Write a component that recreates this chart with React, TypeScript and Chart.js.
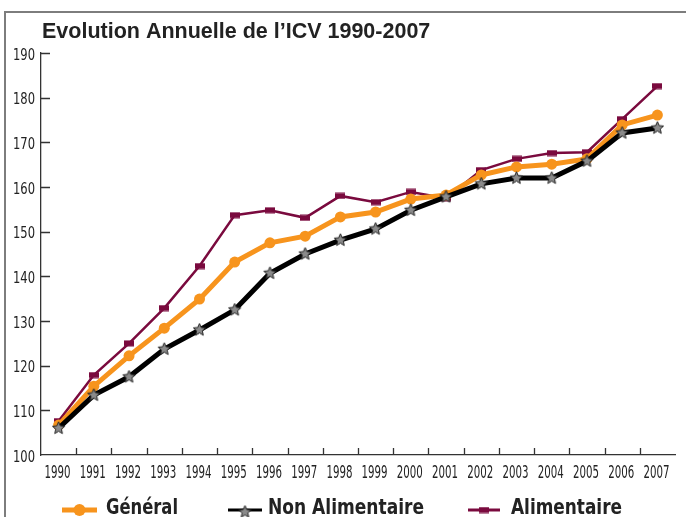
import React, { useEffect, useRef } from "react";
import { Chart, registerables } from "chart.js";
Chart.register(...registerables);

const years = ["1990","1991","1992","1993","1994","1995","1996","1997","1998","1999","2000","2001","2002","2003","2004","2005","2006","2007"];
const general = [106.7,115.4,122.2,128.4,134.9,143.2,147.5,149.0,153.3,154.4,157.3,158.2,162.7,164.5,165.1,166.3,173.9,176.1];
const nonAlimentaire = [106.0,113.4,117.5,123.7,128.0,132.5,140.7,145.0,148.1,150.6,154.8,157.8,160.7,162.0,162.0,165.8,172.1,173.2];
const alimentaire = [107.6,117.9,125.0,132.9,142.3,153.7,154.8,153.1,158.0,156.6,158.9,157.5,163.8,166.3,167.6,167.8,175.2,182.6];
const yMin = 100;
const yMax = 190;
const yStep = 10;
const titleText = "Evolution Annuelle de l\u2019ICV 1990-2007";
const seriesNames = ["Général", "Non Alimentaire", "Alimentaire"];

const ORANGE = "#f7941d";
const BLACK = "#000000";
const MAROON = "#7a0a3e";
const NARROW = "'Liberation Sans Narrow', 'Arial Narrow', 'DejaVu Sans Condensed', sans-serif";

function makeStar(): HTMLCanvasElement {
  const c = document.createElement("canvas");
  c.width = 15; c.height = 15;
  const ctx = c.getContext("2d")!;
  const cx = 7.5, cy = 7.5, ro = 6.5, ri = 3;
  ctx.beginPath();
  for (let i = 0; i < 10; i++) {
    const r = i % 2 === 0 ? ro : ri;
    const a = -Math.PI / 2 + (i * Math.PI) / 5;
    const x = cx + r * Math.cos(a), y = cy + r * Math.sin(a);
    if (i === 0) ctx.moveTo(x, y); else ctx.lineTo(x, y);
  }
  ctx.closePath();
  ctx.fillStyle = "#8a8a8a";
  ctx.fill();
  ctx.lineWidth = 1;
  ctx.strokeStyle = "#222";
  ctx.stroke();
  return c;
}

function makeRect(): HTMLCanvasElement {
  const c = document.createElement("canvas");
  c.width = 10; c.height = 7;
  const ctx = c.getContext("2d")!;
  ctx.fillStyle = MAROON;
  ctx.fillRect(0, 0.5, 10, 6);
  return c;
}

export default function App() {
  const ref = useRef<HTMLCanvasElement | null>(null);
  useEffect(() => {
    if (!ref.current) return;
    const star = makeStar();
    const rect = makeRect();

    const decor = {
      id: "decor",
      beforeDraw(chart: any) {
        const ctx = chart.ctx;
        ctx.save();
        ctx.fillStyle = "#fff";
        ctx.fillRect(0, 0, chart.width, chart.height);
        ctx.strokeStyle = "#7d7d7d";
        ctx.lineWidth = 2;
        ctx.beginPath();
        ctx.moveTo(686, 12);
        ctx.lineTo(5, 12);
        ctx.lineTo(5, 517);
        ctx.stroke();
        ctx.restore();
      },
      afterDraw(chart: any) {
        const ctx = chart.ctx;
        const ca = chart.chartArea;
        const ys = chart.scales.y;
        const xs = chart.scales.x;
        ctx.save();
        ctx.strokeStyle = "#333";
        ctx.lineWidth = 1.3;
        ctx.beginPath();
        ys.ticks.forEach((t: any, i: number) => {
          const y = Math.round(ys.getPixelForTick(i)) + 0.5;
          if (t.value === yMin) return;
          ctx.moveTo(ca.left, y);
          ctx.lineTo(ca.left + 9, y);
        });
        for (let i = 0; i < years.length - 1; i++) {
          const x = Math.round((xs.getPixelForValue(i) + xs.getPixelForValue(i + 1)) / 2) + 0.5;
          ctx.moveTo(x, ca.bottom);
          ctx.lineTo(x, ca.bottom - 7);
        }
        ctx.stroke();

        // tick labels (condensed via maxWidth)
        ctx.fillStyle = "#222";
        ctx.textBaseline = "alphabetic";
        ctx.font = "15px " + NARROW;
        ctx.textAlign = "right";
        ys.ticks.forEach((t: any, i: number) => {
          const y = ys.getPixelForTick(i);
          ctx.fillText(String(t.value), ca.left - 6, y + 6.5, 22);
        });
        ctx.font = "17px " + NARROW;
        ctx.textAlign = "center";
        years.forEach((lab, i) => {
          const x = xs.getPixelForValue(i) - 1;
          ctx.fillText(lab, x, 478, 26);
        });

        // title
        ctx.fillStyle = "#222";
        ctx.font = "bold 21.5px 'Liberation Sans', Arial, sans-serif";
        ctx.textAlign = "left";
        ctx.fillText(titleText, 42, 38);

        // legend
        const items = [
          { ds: 0, x0: 62, x1: 97, tx: 106, w: 72 },
          { ds: 1, x0: 228, x1: 262, tx: 268, w: 156 },
          { ds: 2, x0: 468, x1: 500, tx: 511, w: 111 },
        ];
        const ly = 510;
        items.forEach((it) => {
          const ds = chart.data.datasets[it.ds];
          ctx.strokeStyle = ds.borderColor;
          ctx.lineWidth = it.ds === 0 ? 5 : 3;
          ctx.beginPath();
          ctx.moveTo(it.x0, ly);
          ctx.lineTo(it.x1, ly);
          ctx.stroke();
          const cx = (it.x0 + it.x1) / 2;
          if (it.ds === 0) {
            ctx.fillStyle = ORANGE;
            ctx.beginPath();
            ctx.arc(cx, ly, 6, 0, Math.PI * 2);
            ctx.fill();
          } else if (it.ds === 1) {
            ctx.drawImage(star, cx - 7.5, ly - 5.5);
          } else {
            ctx.drawImage(rect, cx - 5, ly - 3.5);
          }
          ctx.fillStyle = "#222";
          ctx.font = "bold 22px " + NARROW;
          ctx.textAlign = "left";
          ctx.fillText(ds.label, it.tx, 514, it.w);
        });
        ctx.restore();
      },
    };

    const chart = new Chart(ref.current, {
      type: "line",
      data: {
        labels: years,
        datasets: [
          {
            label: seriesNames[0],
            data: general,
            borderColor: ORANGE,
            backgroundColor: ORANGE,
            borderWidth: 5,
            pointStyle: "circle",
            pointRadius: 5.5,
            pointBackgroundColor: ORANGE,
            pointBorderColor: ORANGE,
            pointBorderWidth: 0,
            tension: 0,
            order: 1,
          },
          {
            label: seriesNames[1],
            data: nonAlimentaire,
            borderColor: BLACK,
            backgroundColor: BLACK,
            borderWidth: 5,
            pointStyle: star as any,
            pointRadius: 6,
            tension: 0,
            order: 0,
          },
          {
            label: seriesNames[2],
            data: alimentaire,
            borderColor: MAROON,
            backgroundColor: MAROON,
            borderWidth: 2.5,
            pointStyle: rect as any,
            pointRadius: 5,
            tension: 0,
            order: 2,
          },
        ],
      },
      options: {
        responsive: false,
        animation: false,
        layout: { padding: { top: 53, right: 8, left: 0, bottom: 0 } },
        plugins: {
          legend: { display: false },
          title: { display: false },
          tooltip: { enabled: false },
        },
        scales: {
          x: {
            type: "category",
            offset: true,
            grid: { drawOnChartArea: false, drawTicks: false },
            border: { display: true, color: "#333", width: 1.3 },
            ticks: { display: false, autoSkip: false, maxRotation: 0 },
            afterFit(scale: any) { scale.height = 62; },
          },
          y: {
            min: yMin,
            max: yMax,
            grid: { drawOnChartArea: false, drawTicks: false },
            border: { display: true, color: "#333", width: 1.3 },
            ticks: { display: false, stepSize: yStep },
            afterFit(scale: any) { scale.width = 41; },
          },
        },
      },
      plugins: [decor],
    });
    return () => chart.destroy();
  }, []);

  return (
    <div style={{ position: "absolute", left: 0, top: 0, width: 686, height: 517, background: "#fff" }}>
      <canvas ref={ref} width={686} height={517} style={{ display: "block" }} />
    </div>
  );
}
